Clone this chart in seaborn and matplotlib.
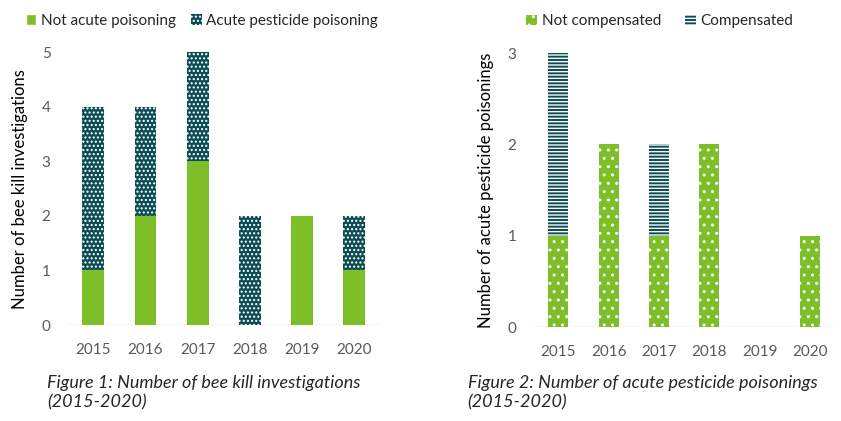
import matplotlib
matplotlib.use("Agg")
import matplotlib.pyplot as plt
from matplotlib.patches import Patch
import seaborn as sns
import pandas as pd

# data
years = ["2015", "2016", "2017", "2018", "2019", "2020"]
not_acute = [1, 2, 3, 0, 2, 1]
acute = [3, 2, 2, 2, 0, 1]
not_comp = [1, 2, 1, 2, 0, 1]
comp = [2, 0, 1, 0, 0, 0]

green = "#7dbe29"
teal = "#0b4c55"
grey = "#595959"

sns.set_style("white")
plt.rcParams["font.family"] = ["Lato", "DejaVu Sans"]
plt.rcParams["hatch.linewidth"] = 1.0

df1 = pd.DataFrame({"year": years, "not_acute": not_acute, "acute": acute})
df2 = pd.DataFrame({"year": years, "not_comp": not_comp, "comp": comp})

fig = plt.figure(figsize=(8.41, 4.21), dpi=100)
ax1 = fig.add_axes([0.080, 0.228, 0.372, 0.648])
ax2 = fig.add_axes([0.634, 0.223, 0.359, 0.651])

# figure 1
sns.barplot(data=df1, x="year", y="not_acute", color=green, width=0.42,
            linewidth=0, saturation=1, ax=ax1)
sns.barplot(data=df1, x="year", y="acute", color=teal, width=0.42,
            bottom=df1["not_acute"], hatch="....", edgecolor="white",
            linewidth=0, saturation=1, ax=ax1)
ax1.set_ylim(0, 5)
ax1.set_xlim(-0.5, 5.5)
ax1.set_ylabel("Number of bee kill investigations", fontsize=12, color="black", labelpad=10)
h1 = [Patch(facecolor=green, label="Not acute poisoning"),
      Patch(facecolor=teal, hatch="....", edgecolor="white", linewidth=0,
            label="Acute pesticide poisoning")]
ax1.legend(handles=h1, loc="lower center", bbox_to_anchor=(0.43, 1.04), ncol=2,
           frameon=False, fontsize=11, handlelength=0.7, handleheight=0.7,
           handletextpad=0.3, columnspacing=1.0)

# figure 2
sns.barplot(data=df2, x="year", y="not_comp", color=green, width=0.40,
            hatch="..", edgecolor="white", linewidth=0, saturation=1, ax=ax2)
sns.barplot(data=df2, x="year", y="comp", color=teal, width=0.40,
            bottom=df2["not_comp"], hatch="-----", edgecolor="white",
            linewidth=0, saturation=1, ax=ax2)
ax2.set_ylim(0, 3)
ax2.set_xlim(-0.5, 5.5)
ax2.set_yticks([0, 1, 2, 3])
ax2.set_ylabel("Number of acute pesticide poisonings", fontsize=12, color="black", labelpad=10)
h2 = [Patch(facecolor=green, hatch="..", edgecolor="white", linewidth=0, label="Not compensated"),
      Patch(facecolor=teal, hatch="-----", edgecolor="white", linewidth=0, label="Compensated")]
ax2.legend(handles=h2, loc="lower center", bbox_to_anchor=(0.42, 1.04), ncol=2,
           frameon=False, fontsize=11, handlelength=0.7, handleheight=0.7,
           handletextpad=0.3, columnspacing=1.6)

for ax in (ax1, ax2):
    ax.set_xlabel("")
    for s in ax.spines.values():
        s.set_visible(False)
    ax.axhline(0, color="#d9d9d9", linewidth=1, zorder=0)
    ax.tick_params(axis="both", length=0, labelsize=11, labelcolor=grey)
    ax.tick_params(axis="y", pad=12)
    ax.tick_params(axis="x", pad=13)

fig.text(0.056, 0.025, "Figure 1: Number of bee kill investigations\n(2015-2020)",
         fontsize=13, style="italic", va="bottom", linespacing=1.25)
fig.text(0.556, 0.025, "Figure 2: Number of acute pesticide poisonings\n(2015-2020)",
         fontsize=13, style="italic", va="bottom", linespacing=1.25)

fig.savefig("out.png", dpi=100)
